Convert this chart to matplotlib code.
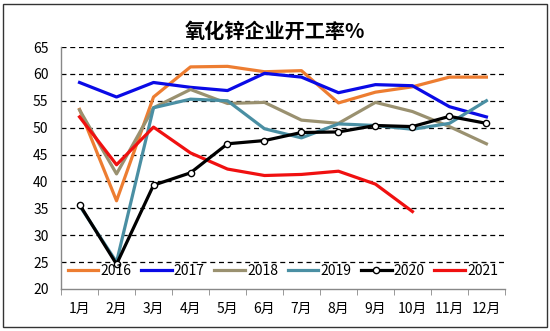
import matplotlib.pyplot as plt
from matplotlib.patches import Rectangle

plt.rcParams['font.family'] = ['Noto Sans CJK SC', 'DejaVu Sans']

# 月份与各年度开工率数据
months = ['1月', '2月', '3月', '4月', '5月', '6月', '7月', '8月', '9月', '10月', '11月', '12月']
rate_2016 = [53.4, 36.4, 55.7, 61.3, 61.4, 60.4, 60.6, 54.6, 56.6, 57.6, 59.4, 59.4]
rate_2017 = [58.4, 55.7, 58.4, 57.5, 56.9, 60.1, 59.4, 56.5, 58.0, 57.8, 53.9, 52.0]
rate_2018 = [53.3, 41.4, 53.7, 57.1, 54.5, 54.7, 51.4, 50.8, 54.7, 53.0, 50.2, 47.0]
rate_2019 = [35.5, 25.0, 53.7, 55.3, 55.0, 49.8, 48.1, 50.7, 50.4, 49.7, 50.8, 55.0]
rate_2020 = [35.7, 24.6, 39.3, 41.6, 47.0, 47.6, 49.1, 49.2, 50.4, 50.2, 52.1, 50.8]
rate_2021 = [52.0, 43.1, 50.1, 45.3, 42.3, 41.1, 41.3, 41.9, 39.5, 34.4]

series = [
    ('2016', rate_2016, '#ED7D31'),
    ('2017', rate_2017, '#0A0AE6'),
    ('2018', rate_2018, '#9A9170'),
    ('2019', rate_2019, '#4A8FA3'),
    ('2020', rate_2020, '#000000'),
    ('2021', rate_2021, '#F01010'),
]

fig = plt.figure(figsize=(5.5, 3.31), dpi=100)
ax = fig.add_axes([0.111, 0.127, 0.807, 0.731])

x = list(range(len(months)))
for name, vals, color in series:
    if name == '2020':
        ax.plot(x[:len(vals)], vals, color=color, lw=2.3, marker='o', ms=4.5,
                mfc='white', mec='black', mew=1.0, label=name, zorder=4)
    else:
        ax.plot(x[:len(vals)], vals, color=color, lw=2.3, label=name, zorder=3)

ax.set_xlim(-0.5, 11.5)
ax.set_ylim(20, 65)
ax.set_yticks(range(20, 66, 5))
ax.set_xticks(x)
ax.set_xticklabels(months)
ax.set_xticks([i + 0.5 for i in range(-1, 12)], minor=True)
ax.tick_params(axis='x', which='major', length=0, pad=9, labelsize=10)
ax.tick_params(axis='x', which='minor', length=4, color='#888888')
ax.tick_params(axis='y', length=0, pad=9, labelsize=10)

for v in range(25, 66, 5):
    ax.axhline(v, color='black', lw=0.9, ls=(0, (4, 3)), zorder=1)

for s in ['top', 'right']:
    ax.spines[s].set_visible(False)
for s in ['left', 'bottom']:
    ax.spines[s].set_color('#888888')
    ax.spines[s].set_linewidth(1.0)

ax.legend(loc='center', bbox_to_anchor=(0.5, 0.075), ncol=6, frameon=False,
          fontsize=10, handlelength=2.2, handletextpad=0.15, columnspacing=0.7,
          borderpad=0.1)

fig.text(0.5, 0.905, '氧化锌企业开工率%', ha='center', va='center',
         fontsize=14.5, fontweight='bold')

fig.patches.append(Rectangle((0.006, 0.012), 0.988, 0.976, transform=fig.transFigure,
                             fill=False, edgecolor='#333333', lw=1.0))

fig.savefig('out.png', dpi=100)
